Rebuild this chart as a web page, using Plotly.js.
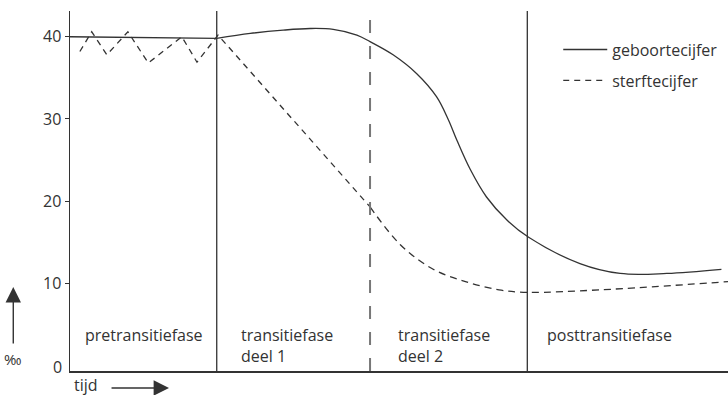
<!DOCTYPE html>
<html>
<head>
<meta charset="utf-8">
<script src="https://cdn.plot.ly/plotly-3.0.1.min.js"></script>
<style>
  html, body { margin: 0; padding: 0; background: #fff; }
  #chart { width: 728px; height: 395px; }
</style>
</head>
<body>
<div id="chart"></div>
<script>
// time runs 0..100 (arbitrary units), rates in promille
const phaseBounds = [22.3, 45.6, 69.5];
const phaseLabels = ['pretransitiefase', 'transitiefase<br>deel 1', 'transitiefase<br>deel 2', 'posttransitiefase'];

// geboortecijfer: flat part, then the smooth curve
const birthX1 = [0, 22.3];
const birthY1 = [40.0, 39.8];
const birthX2 = [22.3, 27.4, 32.4, 36.5, 40.0, 43.6, 45.6, 49.1, 52.7, 55.7, 57.5, 58.8, 60.8, 63.3, 66.4, 69.7, 77.5, 83.6, 90.7, 99.0];
const birthY2 = [39.8, 40.4, 40.8, 41.0, 40.9, 40.2, 39.4, 37.8, 35.5, 32.7, 29.9, 27.4, 23.9, 20.5, 17.7, 15.6, 12.4, 11.2, 11.2, 11.7];

// sterftecijfer: zigzag and straight drop, then the smooth curve
const deathX1 = [1.5, 3.3, 5.6, 8.8, 11.9, 17.0, 19.3, 22.5, 45.6];
const deathY1 = [38.2, 40.6, 37.8, 40.6, 36.8, 40.0, 36.9, 40.2, 19.3];
const deathX2 = [45.6, 50.2, 55.0, 60.1, 65.2, 69.5, 80.5, 100];
const deathY2 = [19.3, 14.7, 11.8, 10.2, 9.2, 8.9, 9.2, 10.2];

const yTicks = [10, 20, 30, 40];

const ink = '#333';
const font = 'Open Sans, sans-serif';

const traces = [
  { x: birthX1, y: birthY1, mode: 'lines', name: 'geboortecijfer', legendgroup: 'a',
    line: { color: ink, width: 1.3 } },
  { x: birthX2, y: birthY2, mode: 'lines', legendgroup: 'a', showlegend: false,
    line: { color: ink, width: 1.3, shape: 'spline' } },
  { x: deathX1, y: deathY1, mode: 'lines', name: 'sterftecijfer', legendgroup: 'b',
    line: { color: ink, width: 1.3, dash: '6px,5px' } },
  { x: deathX2, y: deathY2, mode: 'lines', legendgroup: 'b', showlegend: false,
    line: { color: ink, width: 1.3, dash: '7px,5px', shape: 'spline' } }
];

// phase dividers
const shapes = phaseBounds.map((b, i) => ({
  type: 'line', xref: 'x', yref: 'paper', x0: b, x1: b, y0: 0, y1: 1,
  line: i === 1 ? { color: '#777', width: 2, dash: '13px,13px' } : { color: ink, width: 1.3 }
}));

const labelLeft = [2.1, 25.8, 49.7, 72.3];
const annotations = phaseLabels.map((t, i) => ({
  text: t, xref: 'x', yref: 'paper', x: labelLeft[i], y: 0.132,
  xanchor: 'left', yanchor: 'top', align: 'left', showarrow: false, borderpad: 0,
  font: { family: font, size: 16, color: ink }
}));

annotations.push(
  { text: '0', xref: 'paper', yref: 'y', x: 0, y: 0, xanchor: 'right', yanchor: 'middle',
    xshift: -6, yshift: -2, showarrow: false, font: { family: font, size: 16, color: ink } },
  // y-direction arrow with promille sign
  { text: '', xref: 'paper', yref: 'paper', x: -0.0862, y: 0.2333, ax: 0, ay: 58,
    showarrow: true, arrowhead: 2, arrowsize: 2.2, arrowwidth: 1.4, arrowcolor: ink },
  { text: '‰', xref: 'paper', yref: 'paper', x: -0.0862, y: 0.033, xanchor: 'center', yanchor: 'middle',
    showarrow: false, font: { family: font, size: 15, color: ink } },
  // time arrow
  { text: 'tijd', xref: 'paper', yref: 'paper', x: 0.0046, y: -0.039, xanchor: 'left', yanchor: 'middle',
    borderpad: 0, showarrow: false, font: { family: font, size: 16, color: ink } },
  { text: '', xref: 'paper', yref: 'paper', x: 0.1505, y: -0.0472, ax: -59, ay: 0,
    showarrow: true, arrowhead: 2, arrowsize: 2.2, arrowwidth: 1.4, arrowcolor: ink }
);

const layout = {
  width: 728, height: 395,
  margin: { l: 70, r: 0, t: 11, b: 24 },
  paper_bgcolor: '#fff', plot_bgcolor: '#fff',
  font: { family: font, size: 16, color: ink },
  xaxis: { range: [0, 100], showticklabels: false, ticks: '', showgrid: false, zeroline: false,
    showline: true, linecolor: ink, linewidth: 1.5 },
  yaxis: { range: [-0.67, 43.13], tickvals: yTicks, ticks: 'outside', ticklen: 4, tickcolor: ink,
    showgrid: false, zeroline: false, showline: true, linecolor: ink, linewidth: 1.5,
    tickfont: { family: font, size: 16, color: ink } },
  showlegend: true,
  legend: { x: 0.742, y: 0.94, xanchor: 'left', yanchor: 'top', bgcolor: 'rgba(0,0,0,0)',
    traceorder: 'grouped', tracegroupgap: 7, itemwidth: 44,
    font: { family: font, size: 16, color: ink } },
  shapes: shapes,
  annotations: annotations
};

Plotly.newPlot('chart', traces, layout, { displayModeBar: false, staticPlot: true });
</script>
</body>
</html>
